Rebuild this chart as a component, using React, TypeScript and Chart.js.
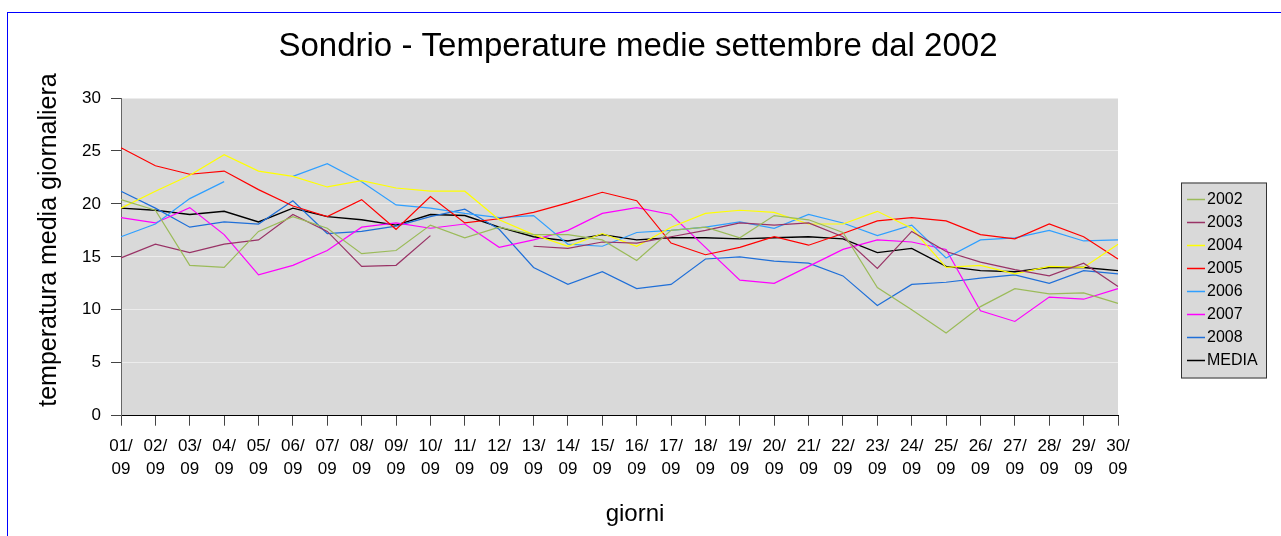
import React, { useEffect, useRef } from "react";
import { Chart, registerables } from "chart.js";

Chart.register(...registerables);

const days = [
  "01", "02", "03", "04", "05", "06", "07", "08", "09", "10",
  "11", "12", "13", "14", "15", "16", "17", "18", "19", "20",
  "21", "22", "23", "24", "25", "26", "27", "28", "29", "30",
];
const categories = days.map((d) => [d + "/", "09"]);

const yTicks = [0, 5, 10, 15, 20, 25, 30];

const d2002 = [20.4, 19.4, 14.2, 14.0, 17.4, 18.8, 17.7, 15.3, 15.6, 18.0, 16.8, 17.8, 17.1, 17.1, 16.6, 14.65, 17.5, 17.8, 16.8, 18.9, 18.5, 17.3, 12.1, 10.0, 7.8, 10.3, 12.0, 11.5, 11.6, 10.6];
const d2003 = [14.9, 16.2, 15.4, 16.2, 16.6, 19.0, 17.4, 14.1, 14.2, 17.0, null, null, 16.0, 15.8, 16.4, 16.3, 16.9, 17.5, 18.2, 18.0, 18.2, 16.9, 13.9, 17.4, 15.5, 14.5, 13.8, 13.2, 14.4, 12.2];
const d2004 = [19.6, 21.2, 22.7, 24.65, 23.1, 22.6, 21.6, 22.2, 21.5, 21.2, 21.2, 18.5, 17.1, 16.0, 17.2, 16.0, 17.8, 19.1, 19.4, 19.2, 18.1, 18.1, 19.3, 17.7, 14.0, 14.2, 13.4, 14.1, 14.0, 16.2];
const d2005 = [25.3, 23.6, 22.8, 23.1, 21.35, 19.8, 18.8, 20.4, 17.6, 20.7, 18.2, 18.6, 19.2, 20.1, 21.1, 20.3, 16.3, 15.2, 15.9, 16.9, 16.1, 17.2, 18.4, 18.7, 18.4, 17.1, 16.7, 18.1, 16.9, 14.8];
const d2006 = [16.9, 18.1, 20.5, 22.1, null, 22.6, 23.8, 22.1, 19.9, 19.6, 19.1, 18.7, 18.9, 16.2, 16.0, 17.3, 17.5, 17.8, 18.3, 17.7, 19.0, 18.2, 17.0, 18.0, 14.9, 16.6, 16.8, 17.5, 16.5, 16.6];
const d2007 = [18.7, 18.2, 19.65, 17.1, 13.3, 14.2, 15.6, 17.8, 18.2, 17.7, 18.1, 15.9, 16.6, 17.5, 19.1, 19.65, 19.0, 15.9, 12.8, 12.5, 14.1, 15.7, 16.6, 16.4, 15.7, 9.9, 8.9, 11.2, 11.0, 12.0];
const d2008 = [21.2, 19.6, 17.8, 18.3, 18.1, 20.3, 17.2, 17.4, 17.9, 18.8, 19.5, 17.6, 14.0, 12.4, 13.6, 12.0, 12.4, 14.8, 15.0, 14.6, 14.4, 13.2, 10.4, 12.4, 12.6, 13.0, 13.3, 12.5, 13.7, 13.4];
const dMedia = [19.6, 19.4, 19.0, 19.3, 18.3, 19.6, 18.8, 18.5, 18.0, 19.0, 18.9, 17.8, 16.9, 16.5, 17.1, 16.6, 16.8, 16.8, 16.7, 16.8, 16.9, 16.7, 15.4, 15.8, 14.1, 13.7, 13.6, 14.0, 14.0, 13.7];

const seriesNames = ["2002", "2003", "2004", "2005", "2006", "2007", "2008", "MEDIA"];
const seriesData = [d2002, d2003, d2004, d2005, d2006, d2007, d2008, dMedia];
const seriesColors = ["#9bbb59", "#993366", "#ffff00", "#ff0000", "#2f9fff", "#ff00ff", "#1f6fd8", "#000000"];

const titleText = "Sondrio - Temperature medie settembre dal 2002";
const yTitle = "temperatura media giornaliera";
const xTitle = "giorni";

const FONT = '"Liberation Sans", Arial, Helvetica, sans-serif';

export default function App() {
  const ref = useRef<HTMLCanvasElement | null>(null);

  useEffect(() => {
    if (!ref.current) return;
    Chart.defaults.font.family = FONT;

    const bgPlugin = {
      id: "bgPlugin",
      beforeDraw(chart: any) {
        const { ctx, chartArea } = chart;
        ctx.save();
        ctx.fillStyle = "#ffffff";
        ctx.fillRect(0, 0, chart.width, chart.height);
        ctx.fillStyle = "#d9d9d9";
        ctx.fillRect(chartArea.left, chartArea.top, chartArea.right - chartArea.left, chartArea.bottom - chartArea.top);
        ctx.restore();
      },
      afterDraw(chart: any) {
        const { ctx } = chart;
        ctx.save();
        // title
        ctx.fillStyle = "#000";
        ctx.font = "33px " + FONT;
        ctx.textAlign = "center";
        ctx.textBaseline = "alphabetic";
        ctx.fillText(titleText, 638, 56);
        // x title
        ctx.font = "24px " + FONT;
        ctx.fillText(xTitle, 635, 521);
        // y title
        ctx.save();
        ctx.translate(49, 240);
        ctx.rotate(-Math.PI / 2);
        ctx.font = "25px " + FONT;
        ctx.textBaseline = "middle";
        ctx.fillText(yTitle, 0, 0);
        ctx.restore();
        // legend
        const lx = 1181, ly = 182.5, lw = 86, lh = 196;
        ctx.fillStyle = "#d9d9d9";
        ctx.fillRect(lx, ly, lw, lh);
        ctx.strokeStyle = "#333";
        ctx.lineWidth = 1;
        ctx.strokeRect(lx + 0.5, ly + 0.5, lw - 1, lh - 1);
        ctx.font = "16px " + FONT;
        ctx.textAlign = "left";
        ctx.textBaseline = "middle";
        chart.data.datasets.forEach((ds: any, i: number) => {
          const y = ly + 16 + i * 23.07;
          ctx.strokeStyle = ds.borderColor;
          ctx.lineWidth = 1.5;
          ctx.beginPath();
          ctx.moveTo(1187, Math.round(y) + 0.5);
          ctx.lineTo(1205, Math.round(y) + 0.5);
          ctx.stroke();
          ctx.fillStyle = "#000";
          ctx.fillText(ds.label, 1207, y + 1);
        });
        ctx.restore();
      },
    };

    const chart = new Chart(ref.current, {
      type: "line",
      data: {
        labels: categories as any,
        datasets: seriesNames.map((name, i) => ({
          label: name,
          data: seriesData[i] as any,
          borderColor: seriesColors[i],
          backgroundColor: seriesColors[i],
          borderWidth: name === "MEDIA" ? 1.4 : 1.2,
          pointRadius: 0,
          pointHoverRadius: 0,
          tension: 0,
          spanGaps: false,
          fill: false,
        })),
      },
      options: {
        responsive: false,
        animation: false,
        events: [],
        layout: { padding: { left: 0, top: 98, right: 163, bottom: 0 } },
        plugins: {
          legend: { display: false },
          title: { display: false },
          tooltip: { enabled: false },
        },
        scales: {
          x: {
            type: "category",
            offset: false,
            afterFit(scale: any) {
              scale.height = 120.3;
            },
            grid: {
              drawOnChartArea: false,
              drawTicks: true,
              tickLength: 10,
              tickColor: "#444",
            },
            border: { display: true, color: "#000", width: 1 },
            ticks: {
              autoSkip: false,
              maxRotation: 0,
              minRotation: 0,
              padding: 9,
              color: "#000",
              font: { size: 17, lineHeight: 1.35 },
            },
          },
          y: {
            min: 0,
            max: 30,
            afterFit(scale: any) {
              scale.width = 121;
            },
            afterBuildTicks(scale: any) {
              scale.ticks = yTicks.map((v) => ({ value: v }));
            },
            grid: {
              color: "#ececec",
              lineWidth: 1,
              drawTicks: true,
              tickLength: 10,
              tickColor: "#444",
            },
            border: { display: true, color: "#666", width: 1 },
            ticks: {
              stepSize: 5,
              padding: 10,
              color: "#000",
              font: { size: 17 },
            },
          },
        },
      },
      plugins: [bgPlugin],
    });
    return () => chart.destroy();
  }, []);

  return (
    <div style={{ position: "absolute", left: 0, top: 0, width: 1281, height: 536, overflow: "hidden", background: "#fff" }}>
      <canvas ref={ref} width={1281} height={536} style={{ position: "absolute", left: 0, top: 0, width: 1281, height: 536 }} />
      <div style={{ position: "absolute", left: 7, top: 12, width: 1300, height: 600, border: "1px solid #0000ff", boxSizing: "border-box", pointerEvents: "none" }} />
    </div>
  );
}
